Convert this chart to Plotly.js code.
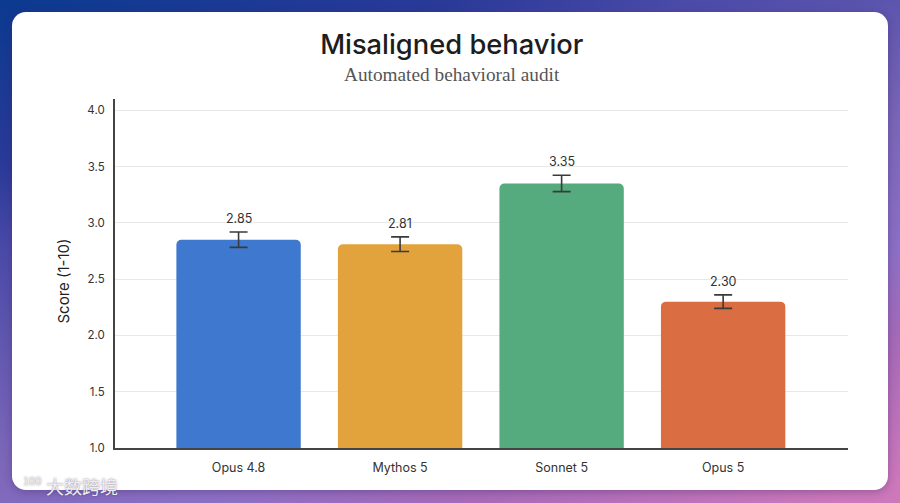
<!DOCTYPE html>
<html>
<head>
<meta charset="utf-8">
<script src="https://cdn.plot.ly/plotly-3.0.1.min.js"></script>
<style>
	html, body { margin: 0; padding: 0; width: 900px; height: 503px; overflow: hidden; }
	body {
		position: relative;
		background:
			linear-gradient(160deg, #0b3a90 0%, #2a3a98 20%, #4a4aa8 30%, #7a66b8 54%, #8a70c6 69%, #a56ab8 80%, #cc78bb 97%);
	}
	#card {
		position: absolute; left: 12px; top: 12px; width: 876px; height: 478px;
		background: #fff; border-radius: 14px;
		box-shadow: 0 2px 8px rgba(60, 30, 90, 0.35);
	}
	#chart { position: absolute; left: 0; top: 0; width: 900px; height: 503px; }
</style>
</head>
<body>
<div id="card"></div>
<div id="chart"></div>
<script>
	'use strict';

	const models = ['Opus 4.8', 'Mythos 5', 'Sonnet 5', 'Opus 5'];
	const scores = [2.85, 2.81, 3.35, 2.30];
	const errors = [0.068, 0.065, 0.073, 0.06];
	const colors = ['#3f78cf', '#e2a23c', '#55aa7e', '#db6d42'];

	const yTicks = [1, 1.5, 2, 2.5, 3, 3.5, 4];

	const textDark = '#333333';
	const sans = 'Inter, Roboto, sans-serif';

	// plot box in page pixels
	const margin = { l: 114.5, r: 52, t: 99, b: 55, pad: 0 };
	const plotW = 900 - margin.l - margin.r;
	const plotH = 503 - margin.t - margin.b;
	const paperX = px => (px - margin.l) / plotW;
	const paperY = py => (503 - margin.b - py) / plotH;

	const bars = {
		type: 'bar',
		x: models,
		y: scores,
		width: 0.77,
		marker: { color: colors, cornerradius: 5, line: { width: 0 } },
		error_y: {
			type: 'data',
			array: errors,
			visible: true,
			color: '#3a3a3a',
			thickness: 1.6,
			width: 9
		},
		hoverinfo: 'skip'
	};

	// value labels sit above the whisker
	const valueLabels = models.map((m, i) => ({
		x: m,
		y: scores[i] + errors[i],
		yref: 'y',
		text: scores[i].toFixed(2),
		showarrow: false,
		yanchor: 'bottom',
		yshift: 4,
		font: { family: sans, size: 12.5, color: textDark }
	}));

	const subtitle = {
		xref: 'paper', yref: 'paper',
		x: paperX(451.5), y: paperY(75),
		xanchor: 'center', yanchor: 'middle',
		text: 'Automated behavioral audit',
		showarrow: false,
		font: { family: '"Liberation Serif", serif', size: 19.3, color: '#555555' }
	};

	const yTitle = {
		xref: 'paper', yref: 'paper',
		x: paperX(62), y: paperY(281),
		xanchor: 'center', yanchor: 'middle',
		textangle: -90,
		text: 'Score (1-10)',
		showarrow: false,
		font: { family: sans, size: 15, color: '#222222' }
	};

	const markFont = { family: '"Noto Sans CJK SC", sans-serif', size: 18, color: '#eeeef2', shadow: '0 0 2px rgba(70,60,90,0.7)' };

	const watermark = {
		xref: 'paper', yref: 'paper',
		x: paperX(81), y: paperY(486),
		xanchor: 'center', yanchor: 'middle',
		text: '大数跨境',
		showarrow: false,
		font: markFont
	};

	const watermarkLogo = {
		xref: 'paper', yref: 'paper',
		x: paperX(31), y: paperY(480),
		xanchor: 'center', yanchor: 'middle',
		text: '100',
		showarrow: false,
		font: { ...markFont, size: 11 }
	};

	const layout = {
		width: 900,
		height: 503,
		margin,
		paper_bgcolor: 'rgba(0,0,0,0)',
		plot_bgcolor: 'rgba(0,0,0,0)',
		showlegend: false,
		title: {
			text: 'Misaligned behavior',
			font: { family: 'Inter, sans-serif', size: 27.3, weight: 450, color: '#1d1d1d' },
			xref: 'paper',
			x: paperX(451.5),
			xanchor: 'center',
			yref: 'container',
			y: 1 - 44 / 503,
			yanchor: 'middle'
		},
		xaxis: {
			type: 'category',
			range: [-0.765, 3.773],
			showgrid: false,
			zeroline: false,
			showline: true,
			linecolor: '#444444',
			linewidth: 2,
			ticks: '',
			ticklabelstandoff: 7,
			tickfont: { family: sans, size: 12.5, color: textDark }
		},
		yaxis: {
			range: [1, 4.1],
			tickvals: yTicks,
			ticktext: yTicks.map(t => t.toFixed(1)),
			showgrid: true,
			gridcolor: '#e8e8e6',
			gridwidth: 1,
			zeroline: false,
			showline: true,
			linecolor: '#444444',
			linewidth: 2,
			ticks: '',
			ticklabelstandoff: 6,
			tickfont: { family: sans, size: 11.5, color: textDark }
		},
		annotations: [...valueLabels, subtitle, yTitle, watermark, watermarkLogo]
	};

	Plotly.newPlot('chart', [bars], layout, { displayModeBar: false, responsive: false });
</script>
</body>
</html>
